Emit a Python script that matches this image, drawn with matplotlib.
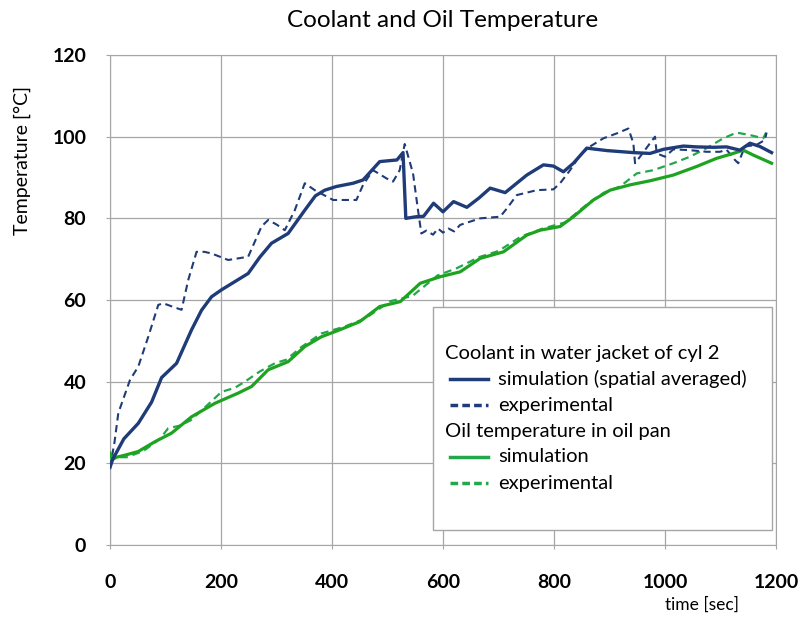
import matplotlib
matplotlib.use('Agg')
import matplotlib.pyplot as plt
from matplotlib.patches import Rectangle
from matplotlib.lines import Line2D

plt.rcParams['font.family'] = ['Lato', 'DejaVu Sans']

# coolant, simulation (spatial averaged)
cool_sim_t = [0, 5, 25, 51, 75, 93, 120, 147, 165, 183, 201, 225, 249, 270, 291, 321, 351, 370, 387,
              408, 438, 456, 486, 517, 528, 533, 552, 565, 583, 600, 619, 643, 665, 685, 712, 751, 781,
              799, 817, 835, 859, 895, 943, 973, 997, 1033, 1057, 1087, 1111, 1135, 1153, 1171, 1192]
cool_sim_T = [19, 21, 26, 29.8, 35, 41, 44.5, 52.7, 57.5, 60.8, 62.5, 64.5, 66.5, 70.5, 73.9, 76.3, 82, 85.5, 86.9,
              87.8, 88.6, 89.4, 93.9, 94.3, 96.1, 80, 80.4, 80.5, 83.7, 81.6, 84.1, 82.7, 85, 87.4, 86.3, 90.6, 93.1,
              92.8, 91.4, 93.5, 97.2, 96.6, 96.1, 95.9, 96.9, 97.7, 97.5, 97.4, 97.5, 96.7, 98.4, 97.6, 96.1]

# coolant, experimental
cool_exp_t = [0, 8, 15, 36, 51, 69, 87, 96, 110, 129, 141, 156, 170, 183, 213, 249, 273, 285, 300, 315, 333,
              351, 369, 402, 426, 444, 456, 474, 498, 510, 522, 531, 546, 555, 561, 570, 582, 591, 600, 610,
              620, 631, 667, 703, 715, 733, 769, 799, 811, 829, 847, 865, 889, 913, 934, 943, 946, 955, 973,
              982, 985, 1000, 1015, 1045, 1075, 1099, 1111, 1126, 1132, 1144, 1165, 1180, 1183]
cool_exp_T = [19, 25, 32.3, 40.4, 43.7, 51, 58.8, 59.2, 58.5, 57.6, 64.9, 71.8, 71.8, 71.4, 69.8, 70.6, 78, 79.6,
              78.5, 77.1, 82, 88.6, 86.9, 84.5, 84.5, 84.5, 88.2, 91.8, 89.8, 89, 91.8, 98.2, 91, 82, 76.3, 77,
              76, 77.5, 76.5, 77.5, 76.8, 78.4, 80, 80.4, 82.4, 85.7, 86.9, 87.1, 88.6, 91.8, 95.5, 97.6, 99.6,
              100.8, 102, 98.4, 93.5, 95.1, 98.4, 100, 95.9, 95.1, 96.9, 96.7, 96.3, 96.3, 96.8, 94.3, 93.5,
              97.6, 98, 99.2, 101]

# oil pan, simulation
oil_sim_t = [0, 5, 12, 27, 51, 81, 111, 147, 189, 231, 255, 285, 321, 351, 381, 414, 450, 486, 523, 559,
             595, 631, 667, 709, 751, 775, 811, 835, 871, 901, 937, 973, 1015, 1057, 1093, 1123, 1141, 1159, 1192]
oil_sim_T = [22.5, 21, 21.5, 22, 22.9, 25.3, 27.4, 31.4, 34.7, 37.2, 38.8, 42.9, 44.9, 48.6, 51, 52.7, 54.7,
             58.4, 59.6, 64.1, 65.7, 66.9, 70.2, 71.8, 75.9, 77.1, 78, 80.4, 84.5, 86.9, 88.2, 89.2, 90.6, 92.7,
             94.7, 95.9, 96.7, 95.5, 93.5]

# oil pan, experimental
oil_exp_t = [0, 5, 15, 30, 60, 90, 105, 125, 145, 171, 201, 225, 243, 270, 297, 318, 345, 381, 423, 460,
             505, 545, 590, 625, 665, 700, 740, 780, 820, 860, 890, 919, 949, 979, 1015, 1045, 1075, 1105,
             1129, 1153, 1177, 1182]
oil_exp_T = [21, 22, 21.5, 21.5, 23, 26, 28.6, 29.2, 30.5, 33.7, 37.5, 38.5, 40, 42.5, 44.5, 45.4, 48.5, 51.8,
             53.5, 55.5, 59.7, 61, 66, 67.8, 70.5, 72, 75.5, 77.5, 79, 83.5, 86.3, 87.8, 91, 91.8, 93.5, 95.1,
             97.2, 99.6, 101, 100.4, 99.6, 101]

BLUE = '#1f3c78'
GREEN = '#1ea321'
GREEN_EXP = '#22a84a'
GRID = '#a6a6a6'

fig = plt.figure(figsize=(8.01, 6.21), dpi=100)
ax = fig.add_axes([0.1373, 0.1224, 0.8315, 0.789])

ax.plot(oil_exp_t, oil_exp_T, color=GREEN_EXP, lw=1.6, dashes=(3.5, 2.2), zorder=3)
ax.plot(oil_sim_t, oil_sim_T, color=GREEN, lw=2.3, zorder=4)
ax.plot(cool_exp_t, cool_exp_T, color=BLUE, lw=1.5, dashes=(3.5, 2.2), zorder=3)
ax.plot(cool_sim_t, cool_sim_T, color=BLUE, lw=2.4, zorder=4)

ax.set_xlim(0, 1200)
ax.set_ylim(0, 120)
ax.set_xticks(range(0, 1201, 200))
ax.set_yticks(range(0, 121, 20))
ax.grid(True, color=GRID, lw=0.9)
ax.set_axisbelow(True)
for s in ax.spines.values():
    s.set_color(GRID)
ax.tick_params(axis='both', colors=GRID, length=3, labelcolor='black', labelsize=14)
ax.tick_params(axis='x', pad=18)
ax.tick_params(axis='y', pad=14)
for lab in ax.get_xticklabels() + ax.get_yticklabels():
    lab.set_fontweight('bold')

fig.text(0.553, 0.967, 'Coolant and Oil Temperature', ha='center', va='center', fontsize=17.5)
fig.text(0.028, 0.742, 'Temperature [°C]', rotation=90, ha='center', va='center', fontsize=14)
fig.text(0.877, 0.026, 'time [sec]', ha='center', va='center', fontsize=12.5)

# legend box (drawn by hand to keep the header rows flush left)
ax.add_patch(Rectangle((0.485, 0.031), 0.509, 0.455, transform=ax.transAxes,
                       facecolor='white', edgecolor=GRID, lw=1.0, zorder=5))
rows = [
    ('Coolant in water jacket of cyl 2', None, None),
    ('simulation (spatial averaged)', BLUE, '-'),
    ('experimental', BLUE, '--'),
    ('Oil temperature in oil pan', None, None),
    ('simulation', GREEN_EXP, '-'),
    ('experimental', GREEN_EXP, '--'),
]
ys = [353, 379, 405, 431, 457, 483]
for (label, col, ls), ypx in zip(rows, ys):
    yf = 1 - ypx / 621
    if col is None:
        fig.text(445 / 801, yf, label, ha='left', va='center', fontsize=14.5, zorder=6)
    else:
        ln = Line2D([450 / 801, 488 / 801], [yf, yf], transform=fig.transFigure, color=col,
                    lw=2.5, zorder=6)
        if ls == '--':
            ln.set_dashes((2.2, 1.2))
        fig.add_artist(ln)
        fig.text(498 / 801, yf, label, ha='left', va='center', fontsize=14.5, zorder=6)

fig.savefig('out.png', dpi=100)
